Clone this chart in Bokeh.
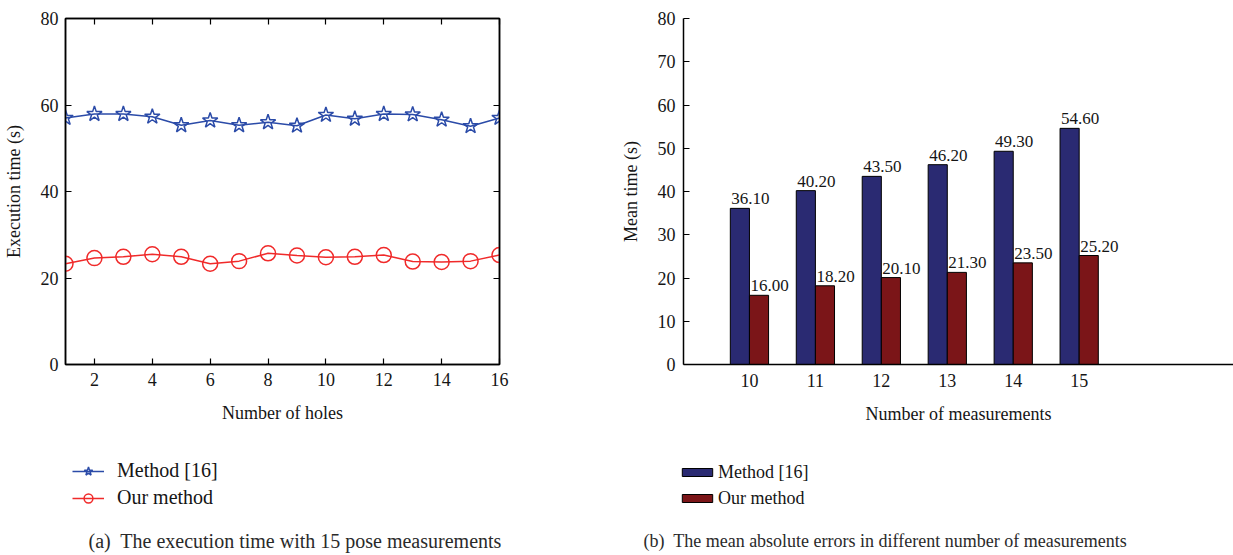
from bokeh.plotting import figure
from bokeh.layouts import row, column
from bokeh.models import (Range1d, LinearAxis, FixedTicker, Legend, LegendItem,
                          Label, LabelSet, ColumnDataSource)
from bokeh.embed import file_html
from bokeh.resources import INLINE

# ---------------- data ----------------
holes = list(range(1, 17))
method16_time = [57.0, 57.9, 57.9, 57.3, 55.3, 56.4, 55.3, 56.0, 55.2, 57.7, 56.8, 57.9, 57.8, 56.6, 55.1, 57.0]
our_time = [23.3, 24.6, 24.9, 25.5, 24.9, 23.3, 23.9, 25.7, 25.2, 24.8, 24.9, 25.3, 23.8, 23.7, 23.9, 25.3]

measurements = [10, 11, 12, 13, 14, 15]
method16_mean = [36.10, 40.20, 43.50, 46.20, 49.30, 54.60]
our_mean = [16.00, 18.20, 20.10, 21.30, 23.50, 25.20]

left_xticks = [2, 4, 6, 8, 10, 12, 14, 16]
left_yticks = [0, 20, 40, 60, 80]
right_yticks = [0, 10, 20, 30, 40, 50, 60, 70, 80]
series_names = ["Method [16]", "Our method"]
captions = ["(a)\u00a0 The execution time with 15 pose measurements",
            "(b)\u00a0 The mean absolute errors in different number of measurements"]

FONT = "Liberation Serif"
FS = "18px"
TXT = "#151515"
BLUE_LINE = "#2B4BA8"
RED_LINE = "#F02A2A"
BLUE_BAR = "#2A2A72"
RED_BAR = "#7B1518"


def style_axis(ax):
    ax.major_label_text_font = FONT
    ax.major_label_text_font_size = FS
    ax.major_label_text_color = TXT
    ax.axis_label_text_font = FONT
    ax.axis_label_text_font_size = FS
    ax.axis_label_text_font_style = "normal"
    ax.axis_label_text_color = TXT
    ax.axis_line_color = "black"
    ax.axis_line_width = 1.5
    ax.major_tick_line_color = "black"
    ax.major_tick_line_width = 1.2
    ax.major_tick_in = 6
    ax.major_tick_out = 0
    ax.minor_tick_line_color = None


def blank_frame(fig):
    fig.grid.visible = False
    fig.axis.visible = False
    fig.outline_line_color = None
    fig.background_fill_color = "white"
    fig.border_fill_color = "white"


# ---------------- left panel ----------------
p1 = figure(width=616, height=440, output_backend="svg", toolbar_location=None,
            x_range=Range1d(1, 16), y_range=Range1d(0, 80),
            min_border_left=62, min_border_right=117, min_border_top=18,
            min_border_bottom=69)
p1.grid.visible = False
p1.outline_line_color = "black"
p1.outline_line_width = 1.5
p1.background_fill_color = "white"
p1.border_fill_color = "white"

p1.xaxis.ticker = FixedTicker(ticks=left_xticks)
p1.yaxis.ticker = FixedTicker(ticks=left_yticks)
p1.xaxis.axis_label = "Number of holes"
p1.yaxis.axis_label = "Execution time (s)"
for ax in p1.xaxis + p1.yaxis:
    style_axis(ax)
p1.xaxis.major_label_standoff = 8
p1.yaxis.major_label_standoff = 7
p1.xaxis.axis_label_standoff = 14
p1.yaxis.axis_label_standoff = 14

ax_top = LinearAxis(ticker=FixedTicker(ticks=left_xticks),
                    major_label_overrides={t: "" for t in left_xticks})
ax_right = LinearAxis(ticker=FixedTicker(ticks=left_yticks),
                      major_label_overrides={t: "" for t in left_yticks})
for ax in (ax_top, ax_right):
    style_axis(ax)
    ax.major_label_standoff = 0
p1.add_layout(ax_top, "above")
p1.add_layout(ax_right, "right")

p1.line(holes, method16_time, line_color=BLUE_LINE, line_width=1.5)
p1.scatter(holes, method16_time, marker="star", size=16, line_color=BLUE_LINE,
           fill_alpha=0.0, line_width=1.5)
p1.line(holes, our_time, line_color=RED_LINE, line_width=1.5)
p1.scatter(holes, our_time, marker="circle", size=15, line_color=RED_LINE,
           fill_alpha=0.0, line_width=1.5)

# ---------------- right panel ----------------
p2 = figure(width=617, height=440, output_backend="svg", toolbar_location=None,
            x_range=Range1d(9, 17.34), y_range=Range1d(0, 80),
            min_border_left=67, min_border_right=0, min_border_top=11,
            min_border_bottom=76)
p2.grid.visible = False
p2.outline_line_color = None
p2.background_fill_color = "white"
p2.border_fill_color = "white"

p2.xaxis.ticker = FixedTicker(ticks=measurements)
p2.yaxis.ticker = FixedTicker(ticks=right_yticks)
p2.xaxis.axis_label = "Number of measurements"
p2.yaxis.axis_label = "Mean time (s)"
for ax in p2.xaxis + p2.yaxis:
    style_axis(ax)
p2.xaxis.major_tick_in = 0
p2.xaxis.major_label_standoff = 9
p2.yaxis.major_label_standoff = 8
p2.xaxis.axis_label_standoff = 14
p2.yaxis.axis_label_standoff = 14

bw = 0.29
p2.vbar(x=[m - bw / 2 for m in measurements], top=method16_mean, width=bw,
        fill_color=BLUE_BAR, line_color="black", line_width=1)
p2.vbar(x=[m + bw / 2 for m in measurements], top=our_mean, width=bw,
        fill_color=RED_BAR, line_color="black", line_width=1)

src1 = ColumnDataSource(dict(x=[v - bw for v in measurements], y=method16_mean,
                             t=["%.2f" % v for v in method16_mean]))
src2 = ColumnDataSource(dict(x=list(measurements), y=our_mean,
                             t=["%.2f" % v for v in our_mean]))
for src in (src1, src2):
    p2.add_layout(LabelSet(x="x", y="y", text="t", source=src, x_offset=1, y_offset=4,
                           text_font=FONT, text_font_size="17px", text_color=TXT,
                           text_baseline="alphabetic", text_align="left"))

# ---------------- legend / caption strips ----------------
def strip(width):
    q = figure(width=width, height=115, output_backend="svg", toolbar_location=None,
               x_range=Range1d(0, 1), y_range=Range1d(0, 1),
               min_border_left=0, min_border_right=0, min_border_top=0,
               min_border_bottom=0)
    blank_frame(q)
    return q


OUT = [-5.0]  # off-frame placeholder point used only to give legend samples a style

q1 = strip(616)
l1a = q1.line(OUT, OUT, line_color=BLUE_LINE, line_width=1.5)
l1b = q1.scatter(OUT, OUT, marker="star", size=16, line_color=BLUE_LINE, fill_alpha=0.0, line_width=1.5)
l2a = q1.line(OUT, OUT, line_color=RED_LINE, line_width=1.5)
l2b = q1.scatter(OUT, OUT, marker="circle", size=15, line_color=RED_LINE, fill_alpha=0.0, line_width=1.5)
leg1 = Legend(items=[LegendItem(label=series_names[0], renderers=[l1a, l1b]),
                     LegendItem(label=series_names[1], renderers=[l2a, l2b])],
              location=(72, 46), orientation="vertical",
              border_line_color=None, background_fill_alpha=0.0,
              padding=0, spacing=4, margin=0,
              glyph_width=32, glyph_height=22, label_height=22,
              label_standoff=13, label_text_font=FONT, label_text_font_size="20px",
              label_text_color=TXT)
q1.add_layout(leg1, "center")
q1.add_layout(Label(x=88, y=15, x_units="screen", y_units="screen", text=captions[0],
                    text_font=FONT, text_font_size="20px", text_color="#2a2a2a",
                    text_baseline="middle"))

q2 = strip(617)
g1 = q2.vbar(x=OUT, top=OUT, width=0.1, fill_color=BLUE_BAR, line_color="black", line_width=1)
g2 = q2.vbar(x=OUT, top=OUT, width=0.1, fill_color=RED_BAR, line_color="black", line_width=1)
leg2 = Legend(items=[LegendItem(label=series_names[0], renderers=[g1]),
                     LegendItem(label=series_names[1], renderers=[g2])],
              location=(62, 46), orientation="vertical",
              border_line_color=None, background_fill_alpha=0.0,
              padding=0, spacing=4, margin=0,
              glyph_width=38, glyph_height=10, label_height=22,
              label_standoff=2, label_text_font=FONT, label_text_font_size=FS,
              label_text_color=TXT)
q2.add_layout(leg2, "center")
q2.add_layout(Label(x=27, y=15, x_units="screen", y_units="screen", text=captions[1],
                    text_font=FONT, text_font_size=FS, text_color="#2a2a2a",
                    text_baseline="middle"))

layout = column(row(p1, p2, spacing=0), row(q1, q2, spacing=0), spacing=0)
open("out.html", "w").write(file_html(layout, INLINE))
